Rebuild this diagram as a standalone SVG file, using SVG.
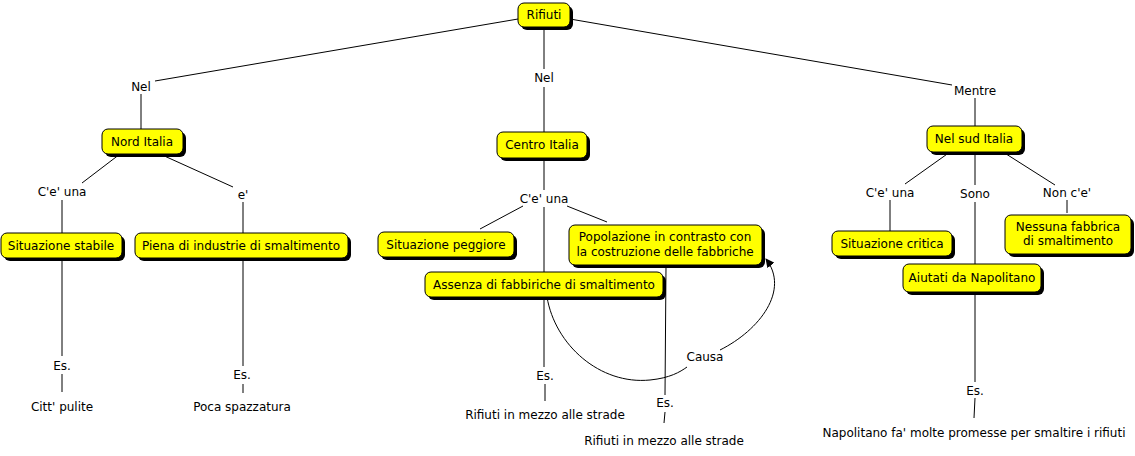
<svg xmlns="http://www.w3.org/2000/svg" width="1135" height="456" viewBox="0 0 1135 456">
<defs>
<style>
.n rect.s{fill:#000}
.n rect.b{fill:#ffff00;stroke:#000;stroke-width:1}
text{font-family:"DejaVu Sans",Verdana,sans-serif;font-size:12px;fill:#000;text-anchor:middle}
.c path,.c line{stroke:#000;stroke-width:1;fill:none}
</style>
<marker id="ar" viewBox="0 0 10 10" refX="9" refY="5" markerWidth="9" markerHeight="9" orient="auto" markerUnits="userSpaceOnUse">
<path d="M0,0 L10,5 L0,10 z" fill="#000"/>
</marker>
</defs>
<rect width="1135" height="456" fill="#fff"/>
<g class="c" id="connectors">
<line x1="518" y1="19" x2="155" y2="81"/>
<line x1="141" y1="94" x2="141" y2="129"/>
<line x1="544" y1="27" x2="544" y2="69"/>
<line x1="544" y1="87" x2="544" y2="132"/>
<line x1="570" y1="19" x2="952" y2="85"/>
<line x1="975" y1="98" x2="975" y2="126"/>
<line x1="120" y1="154" x2="82" y2="183"/>
<line x1="62" y1="200" x2="62" y2="233"/>
<line x1="160" y1="154" x2="233" y2="187"/>
<line x1="243" y1="202" x2="243" y2="233"/>
<line x1="62" y1="258" x2="62" y2="356"/>
<line x1="62" y1="374" x2="62" y2="392"/>
<line x1="243" y1="258" x2="243" y2="366"/>
<line x1="243" y1="384" x2="243" y2="393"/>
<line x1="544" y1="158" x2="544" y2="190"/>
<line x1="523" y1="206" x2="480" y2="229"/>
<line x1="544" y1="207" x2="544" y2="272"/>
<line x1="567" y1="206" x2="607" y2="222"/>
<line x1="544" y1="297" x2="544" y2="367"/>
<line x1="545" y1="384" x2="545" y2="401"/>
<line x1="666" y1="266" x2="665" y2="395"/>
<line x1="665" y1="412" x2="664" y2="423"/>
<path d="M547,297 C555,345 600,385 650,380 C670,378 680,372 687,367"/>
<path d="M720,350 C760,330 790,290 766,259" marker-end="url(#ar)"/>
<line x1="950" y1="152" x2="905" y2="184"/>
<line x1="890" y1="200" x2="890" y2="231"/>
<line x1="975" y1="152" x2="975" y2="185"/>
<line x1="975" y1="202" x2="975" y2="264"/>
<line x1="1003" y1="152" x2="1055" y2="185"/>
<line x1="1067" y1="200" x2="1067" y2="213"/>
<line x1="975" y1="292" x2="975" y2="382"/>
<line x1="975" y1="398" x2="974" y2="418"/>
</g>
<g id="labels">
<text x="141" y="91">Nel</text>
<text x="544" y="82">Nel</text>
<text x="975" y="95">Mentre</text>
<text x="62" y="196">C'e' una</text>
<text x="243" y="199">e'</text>
<text x="544" y="203">C'e' una</text>
<text x="890" y="197">C'e' una</text>
<text x="975" y="198">Sono</text>
<text x="1067" y="197">Non c'e'</text>
<text x="62" y="370">Es.</text>
<text x="242" y="379">Es.</text>
<text x="545" y="380">Es.</text>
<text x="665" y="407">Es.</text>
<text x="975" y="395">Es.</text>
<text x="705" y="361">Causa</text>
<text x="62" y="411">Citt' pulite</text>
<text x="242" y="411">Poca spazzatura</text>
<text x="545" y="419">Rifiuti in mezzo alle strade</text>
<text x="664" y="445">Rifiuti in mezzo alle strade</text>
<text x="974" y="437">Napolitano fa' molte promesse per smaltire i rifiuti</text>
</g>
<g class="n" id="n-rifiuti"><rect class="s" x="521" y="6" width="52" height="24" rx="6"/><rect class="b" x="518" y="3" width="52" height="24" rx="6"/><text x="544" y="19">Rifiuti</text></g>
<g class="n" id="n-nord"><rect class="s" x="105" y="132" width="81" height="25" rx="6"/><rect class="b" x="102" y="129" width="81" height="25" rx="6"/><text x="142" y="146">Nord Italia</text></g>
<g class="n" id="n-centro"><rect class="s" x="500" y="135" width="90" height="26" rx="6"/><rect class="b" x="497" y="132" width="90" height="26" rx="6"/><text x="542" y="149">Centro Italia</text></g>
<g class="n" id="n-sud"><rect class="s" x="930" y="129" width="95" height="26" rx="6"/><rect class="b" x="927" y="126" width="95" height="26" rx="6"/><text x="974" y="143">Nel sud Italia</text></g>
<g class="n" id="n-stabile"><rect class="s" x="4" y="236" width="121" height="25" rx="6"/><rect class="b" x="1" y="233" width="121" height="25" rx="6"/><text x="61" y="250">Situazione stabile</text></g>
<g class="n" id="n-piena"><rect class="s" x="138" y="236" width="213" height="25" rx="6"/><rect class="b" x="135" y="233" width="213" height="25" rx="6"/><text x="241" y="250">Piena di industrie di smaltimento</text></g>
<g class="n" id="n-peggiore"><rect class="s" x="381" y="235" width="136" height="25" rx="6"/><rect class="b" x="378" y="232" width="136" height="25" rx="6"/><text x="446" y="249">Situazione peggiore</text></g>
<g class="n" id="n-popolazione"><rect class="s" x="572" y="228" width="193" height="40" rx="6"/><rect class="b" x="569" y="225" width="193" height="40" rx="6"/><text x="665" y="241">Popolazione in contrasto con</text><text x="665" y="256">la costruzione delle fabbriche</text></g>
<g class="n" id="n-assenza"><rect class="s" x="428" y="275" width="238" height="25" rx="6"/><rect class="b" x="425" y="272" width="238" height="25" rx="6"/><text x="544" y="289">Assenza di fabbiriche di smaltimento</text></g>
<g class="n" id="n-critica"><rect class="s" x="835" y="234" width="120" height="25" rx="6"/><rect class="b" x="832" y="231" width="120" height="25" rx="6"/><text x="892" y="248">Situazione critica</text></g>
<g class="n" id="n-nessuna"><rect class="s" x="1008" y="218" width="126" height="39" rx="6"/><rect class="b" x="1005" y="215" width="126" height="39" rx="6"/><text x="1068" y="231">Nessuna fabbrica</text><text x="1068" y="245">di smaltimento</text></g>
<g class="n" id="n-aiutati"><rect class="s" x="906" y="267" width="138" height="28" rx="6"/><rect class="b" x="903" y="264" width="138" height="28" rx="6"/><text x="972" y="282">Aiutati da Napolitano</text></g>
</svg>
